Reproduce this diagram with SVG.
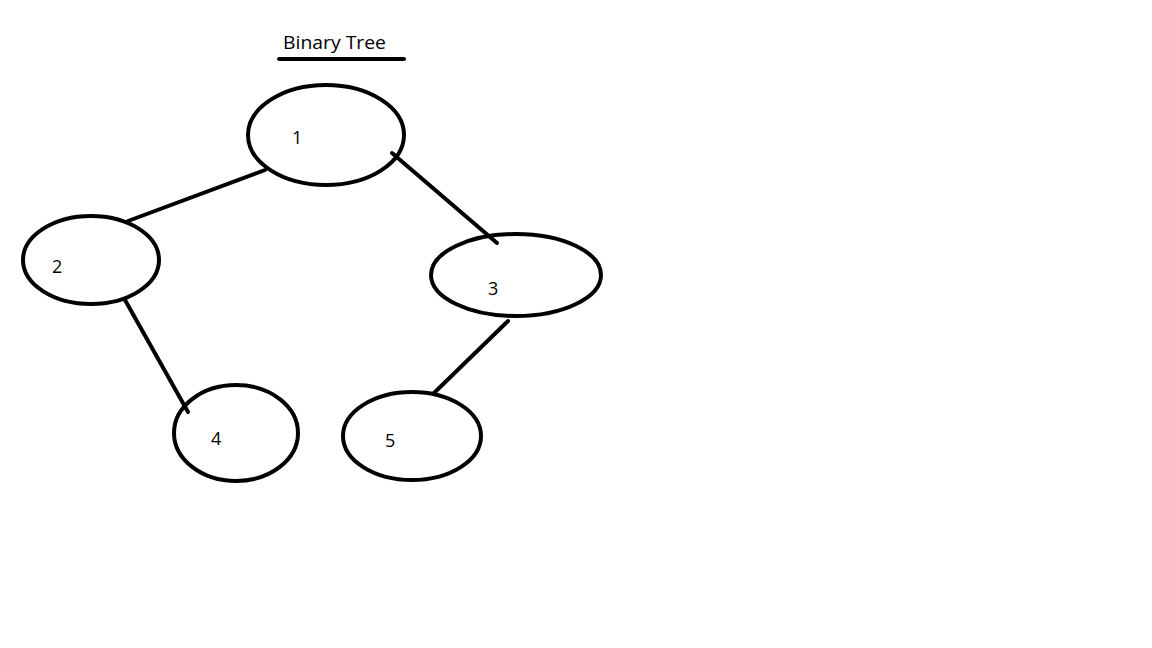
<svg xmlns="http://www.w3.org/2000/svg" width="1152" height="648" viewBox="0 0 1152 648">
<style>
.node{fill:none;stroke:#000;stroke-width:4}
.edge{stroke:#000;stroke-width:4;stroke-linecap:round}
.lbl{font-family:"Open Sans","Liberation Sans",sans-serif;font-size:18px;fill:#000}
.title{font-family:"Open Sans","Liberation Sans",sans-serif;font-size:19px;fill:#000}
</style>
<rect width="1152" height="648" fill="#fff"/>
<g id="title">
<text class="title" x="283" y="49" textLength="103" lengthAdjust="spacingAndGlyphs">Binary Tree</text>
<line class="edge" x1="279" y1="59" x2="404" y2="59"/>
</g>
<g id="connectors">
<line class="edge" x1="265" y1="170" x2="128" y2="221"/>
<line class="edge" x1="392" y1="153" x2="497" y2="243"/>
<line class="edge" x1="125" y1="300" x2="188" y2="412"/>
<line class="edge" x1="508" y1="321" x2="434" y2="393"/>
</g>
<g id="node1">
<ellipse class="node" cx="326" cy="135" rx="78" ry="50"/>
<text class="lbl" x="292" y="144">1</text>
</g>
<g id="node2">
<ellipse class="node" cx="91" cy="260" rx="68" ry="44"/>
<text class="lbl" x="52" y="273">2</text>
</g>
<g id="node3">
<ellipse class="node" cx="516" cy="275" rx="85" ry="41"/>
<text class="lbl" x="488" y="295">3</text>
</g>
<g id="node4">
<ellipse class="node" cx="236" cy="433" rx="62" ry="48"/>
<text class="lbl" x="211" y="445">4</text>
</g>
<g id="node5">
<ellipse class="node" cx="412" cy="436" rx="69" ry="44"/>
<text class="lbl" x="385" y="447">5</text>
</g>
</svg>
